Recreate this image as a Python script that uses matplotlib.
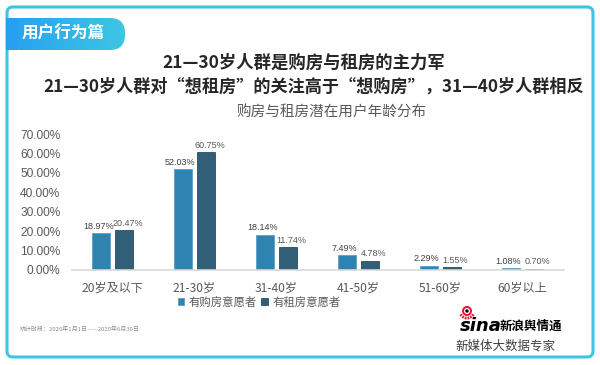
import numpy as np
import matplotlib
matplotlib.use('Agg')
import matplotlib.pyplot as plt
from matplotlib.patches import FancyBboxPatch, Rectangle, Circle, Wedge
from matplotlib.colors import LinearSegmentedColormap

plt.rcParams['font.family'] = ['Noto Sans CJK SC', 'DejaVu Sans']

# data
ages = ['20岁及以下', '21-30岁', '31-40岁', '41-50岁', '51-60岁', '60岁以上']
buy  = [18.97, 52.03, 18.14, 7.49, 2.29, 1.08]
rent = [20.47, 60.75, 11.74, 4.78, 1.55, 0.70]
series_names = ['有购房意愿者', '有租房意愿者']
yticks = [0, 10, 20, 30, 40, 50, 60, 70]

c_buy  = '#2F83B0'
c_rent = '#315F78'
c_text = '#595959'
c_frame = '#3EC3E6'
num_font = ['Liberation Sans Narrow', 'Liberation Sans', 'DejaVu Sans']

W, H = 600, 365
fig = plt.figure(figsize=(W / 100, H / 100), dpi=100)

# overlay in pixel coords (y down)
bg = fig.add_axes([0, 0, 1, 1])
bg.set_xlim(0, W)
bg.set_ylim(H, 0)
bg.axis('off')

# frame
bg.add_patch(FancyBboxPatch((7, 7), 586, 350, boxstyle='round,pad=0,rounding_size=6',
                            fill=False, ec=c_frame, lw=2.2))

# badge with gradient
grad = np.linspace(0, 1, 256).reshape(1, -1)
cmap = LinearSegmentedColormap.from_list('b', ['#27A0F0', '#3EC6E4'])
badge = FancyBboxPatch((6, 18), 119, 32, boxstyle='round,pad=0,rounding_size=15',
                       fc='none', ec='none')
bg.add_patch(badge)
im = bg.imshow(grad, cmap=cmap, extent=(6, 125, 50, 18), aspect='auto', zorder=2)
im.set_clip_path(badge)
bg.add_patch(Rectangle((5.5, 18), 12, 32, fc='#27A0F0', ec='none', zorder=2))
bg.text(63, 34, '用户行为篇', color='white', fontsize=12, fontweight='bold',
        ha='center', va='center', zorder=3)

# titles
bg.text(304, 63, '21—30岁人群是购房与租房的主力军', fontsize=12.5, fontweight='bold',
        color='#262626', ha='center', va='center')
bg.text(314, 87, '21—30岁人群对“想租房”的关注高于“想购房”，31—40岁人群相反',
        fontsize=12.3, fontweight='bold', color='#262626', ha='center', va='center')
bg.text(332, 113, '购房与租房潜在用户年龄分布', fontsize=10.5, color=c_text,
        ha='center', va='center')

# footnote
bg.text(20, 329, '统计时段：2020年1月1日——2020年6月30日', fontsize=4.3,
        color='#8C8C8C', ha='left', va='center')

# sina logo
bg.add_patch(Circle((467, 311), 5.0, fc='#E6162D', ec='none'))
bg.add_patch(Circle((467, 311), 3.0, fc='white', ec='none'))
bg.add_patch(Circle((467, 311), 1.7, fc='black', ec='none'))
for ang in np.linspace(35, 145, 6):
    bg.add_patch(Wedge((467, 311), 8.5, ang - 7, ang + 7, width=2.8, fc='#E6162D', ec='none'))
bg.text(460, 326, 'sina', fontsize=13, fontweight='bold', fontstyle='italic',
        family=['DejaVu Sans'], color='black', ha='left', va='center')
bg.text(500, 326, '新浪舆情通', fontsize=9, fontweight='bold', color='black',
        ha='left', va='center')
bg.text(505, 346, '新媒体大数据专家', fontsize=9, color='#404040', ha='center', va='center')

# main chart
ax = fig.add_axes([71.5 / W, 95 / H, 492 / W, 136 / H])
x = np.arange(len(ages))
bw = 0.22
off = 0.142
b1 = ax.bar(x - off, buy, bw, color=c_buy, edgecolor='#5A9FC6', lw=0.6, label=series_names[0])
b2 = ax.bar(x + off, rent, bw, color=c_rent, edgecolor='#264F66', lw=0.6, label=series_names[1])
for xi, v in zip(x - off, buy):
    ax.text(xi - 0.03, v + 1.2, '{:.2f}%'.format(v), ha='center', va='bottom', fontsize=6.5,
            family=num_font, color='#404040')
for xi, v in zip(x + off, rent):
    ax.text(xi + 0.04, v + 1.2, '{:.2f}%'.format(v), ha='center', va='bottom', fontsize=6.5,
            family=num_font, color=c_text)

ax.set_xlim(-0.5, len(ages) - 0.5)
ax.set_ylim(0, 70)
ax.set_yticks(yticks)
ax.set_yticklabels(['{:.2f}%'.format(t) for t in yticks], family=num_font, fontsize=8.6,
                   color=c_text)
ax.set_xticks(x)
ax.set_xticklabels(ages, fontsize=8.7, color=c_text)
ax.tick_params(axis='both', length=0)
ax.tick_params(axis='x', pad=8)
ax.tick_params(axis='y', pad=8)
for s in ['top', 'right', 'left']:
    ax.spines[s].set_visible(False)
ax.spines['bottom'].set_color('#D9D9D9')
ax.spines['bottom'].set_linewidth(1.2)
ax.patch.set_alpha(0)

fig.legend(handles=[b1, b2], labels=series_names, loc='center', bbox_to_anchor=(259 / W, 1 - 302 / H),
           ncol=2, frameon=False, fontsize=8.2, labelcolor=c_text, handlelength=0.6,
           handleheight=0.6, handletextpad=0.35, columnspacing=0.4)

fig.savefig('out.png', dpi=100)
